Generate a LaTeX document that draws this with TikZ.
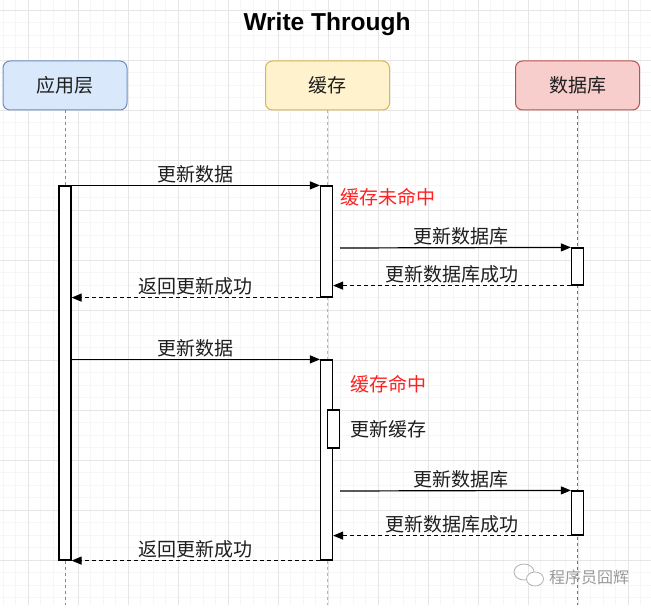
\documentclass[tikz,border=0pt]{standalone}
\usepackage{fontspec}
\setmainfont{Liberation Sans}
\newfontfamily\cjk{Noto Sans CJK SC}
\usetikzlibrary{arrows.meta}
\definecolor{appfill}{HTML}{DAE8FC}
\definecolor{appdraw}{HTML}{6C8EBF}
\definecolor{cachefill}{HTML}{FFF2CC}
\definecolor{cachedraw}{HTML}{D6B656}
\definecolor{dbfill}{HTML}{F8CECC}
\definecolor{dbdraw}{HTML}{B85450}
\definecolor{gridmin}{HTML}{F6F6F6}
\definecolor{gridmaj}{HTML}{E6E6E6}
\definecolor{txt}{HTML}{1E1E1E}
\definecolor{hitred}{HTML}{FF2020}
\tikzset{
  actorbox/.style={draw, rounded corners=7pt, line width=1pt, minimum width=124pt, minimum height=49pt, inner sep=0pt, font=\cjk\fontsize{19}{22}\selectfont, text=txt},
  lifeline/.style={line width=0.9pt, dash pattern=on 3pt off 3pt},
  actbar/.style={draw=black, fill=white, line width=1.2pt, minimum width=12pt, inner sep=0pt},
  msg/.style={line width=1.2pt, -{Triangle[length=10pt,width=8pt]}},
  reply/.style={msg, dash pattern=on 4pt off 3pt},
  lbl/.style={font=\cjk\fontsize{19}{22}\selectfont, text=txt, inner sep=1.5pt},
  note/.style={font=\cjk\fontsize{19}{22}\selectfont, anchor=west, inner sep=0pt},
}
\begin{document}
\begin{tikzpicture}[x=1pt,y=-1pt]
\useasboundingbox (0,0) rectangle (651,615);
\fill[white] (0,0) rectangle (651,615);
% grid
\foreach \x in {3,15.5,...,651} \draw[gridmin, line width=0.6pt] (\x,0) -- (\x,605);
\foreach \y in {10,22.5,...,605} \draw[gridmin, line width=0.6pt] (0,\y) -- (651,\y);
\foreach \x in {28,78,...,651} \draw[gridmaj, line width=0.8pt] (\x,0) -- (\x,605);
\foreach \y in {10,60,...,605} \draw[gridmaj, line width=0.8pt] (0,\y) -- (651,\y);

% title
\node[font=\bfseries\fontsize{24.5}{28}\selectfont] (title) at (327,24) {Write Through};

% actors
\node[actorbox, fill=appfill, draw=appdraw] (app) at (65,85.5) {应用层};
\node[actorbox, fill=cachefill, draw=cachedraw] (cache) at (327.5,85.5) {缓存};
\node[actorbox, fill=dbfill, draw=dbdraw] (db) at (577.5,85.5) {数据库};

% lifelines
\coordinate (append) at (65,605);
\coordinate (cacheend) at (327.5,605);
\coordinate (dbend) at (577.5,605);
\draw[lifeline, appdraw] (app.south) -- (append);
\draw[lifeline, cachedraw] (cache.south) -- (cacheend);
\draw[lifeline, dbdraw] (db.south) -- (dbend);

% activation bars
\node[actbar, minimum height=374pt] (appbar) at (65,373) {};
\node[actbar, minimum height=111pt] (cbar1) at (326.5,241.5) {};
\node[actbar, minimum height=37pt] (dbar1) at (577.5,266.5) {};
\node[actbar, minimum height=200pt] (cbar2) at (326.5,460) {};
\node[actbar, minimum height=38pt] (self) at (333.5,429) {};
\node[actbar, minimum height=44pt] (dbar2) at (577.5,513) {};

% round 1: cache miss
\draw[msg] (appbar.north east) -- node[lbl, above] {更新数据} (cbar1.north west);
\node[note, text=hitred] (miss) at (340,197) {缓存未命中};
\coordinate (q1) at (340,248);
\draw[msg] (q1) -- node[lbl, above, xshift=6pt] {更新数据库} (dbar1.north west);
\draw[reply] (dbar1.south west) -- node[lbl, above] {更新数据库成功} (cbar1.east |- dbar1.south west);
\draw[reply] (cbar1.south west) -- node[lbl, above] {返回更新成功} (appbar.east |- cbar1.south west);

% round 2: cache hit
\draw[msg] (appbar.east |- cbar2.north west) -- node[lbl, above] {更新数据} (cbar2.north west);
\node[note, text=hitred] (hit) at (350,384) {缓存命中};
\node[note, text=txt] (upd) at (350,429) {更新缓存};
\coordinate (q2) at (340,491);
\draw[msg] (q2) -- node[lbl, above, xshift=6pt] {更新数据库} (dbar2.north west);
\draw[reply] (dbar2.south west) -- node[lbl, above] {更新数据库成功} (cbar2.east |- dbar2.south west);
\draw[reply] (cbar2.south west) -- node[lbl, above] {返回更新成功} (appbar.south east);

% watermark
\draw[gray!60, line width=0.8pt] (524,572) ellipse (10pt and 8pt);
\draw[gray!60, line width=0.8pt, fill=white] (535,579) ellipse (8.5pt and 7pt);
\node[anchor=west, inner sep=0pt, text=gray!80, font=\cjk\fontsize{16}{18}\selectfont] (wm) at (549,577) {程序员囧辉};
\end{tikzpicture}
\end{document}
